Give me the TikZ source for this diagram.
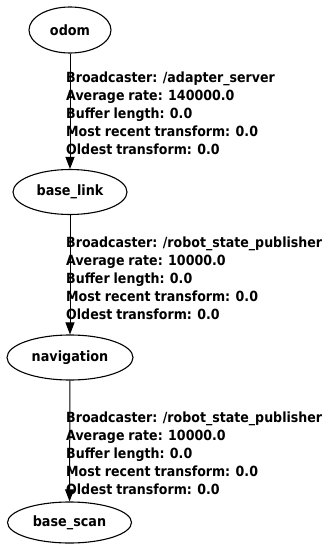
\documentclass[tikz,border=0pt]{standalone}
\usepackage{fontspec}
\setmainfont{DejaVu Sans}
\newfontfamily\labfont{DejaVu Sans}[FakeStretch=0.9,WordSpace=0.9]
\usetikzlibrary{shapes.geometric,arrows.meta}
\begin{document}
\begin{tikzpicture}[x=1pt,y=-1pt,
  frame/.style={ellipse,draw,line width=1.1pt,inner sep=0pt,font=\labfont\bfseries\fontsize{14.2}{17}\selectfont},
  edgelabel/.style={anchor=north west,inner sep=0pt,align=left,font=\labfont\bfseries\fontsize{14}{18}\selectfont},
  link/.style={line width=1pt,-{Triangle[length=12pt,width=9pt]}}]
\useasboundingbox (0,0) rectangle (324,546);
\node[frame,minimum width=82pt,minimum height=46pt] (odom) at (70,30) {odom};
\node[frame,minimum width=114pt,minimum height=45pt] (base_link) at (70,192) {base\_link};
\node[frame,minimum width=126pt,minimum height=45pt] (navigation) at (70,357.5) {navigation};
\node[frame,minimum width=124pt,minimum height=41pt] (base_scan) at (69.5,522.5) {base\_scan};
\draw[link] (odom) -- (base_link);
\draw[link] (base_link) -- (navigation);
\draw[link] (navigation) -- (base_scan);
\node[edgelabel] (l1) at (66,72) {Broadcaster: /adapter\_server\\Average rate: 140000.0\\Buffer length: 0.0\\Most recent transform: 0.0\\Oldest transform: 0.0};
\node[edgelabel] (l2) at (66,237) {Broadcaster: /robot\_state\_publisher\\Average rate: 10000.0\\Buffer length: 0.0\\Most recent transform: 0.0\\Oldest transform: 0.0};
\node[edgelabel] (l3) at (66,411.5) {Broadcaster: /robot\_state\_publisher\\Average rate: 10000.0\\Buffer length: 0.0\\Most recent transform: 0.0\\Oldest transform: 0.0};
\end{tikzpicture}
\end{document}
